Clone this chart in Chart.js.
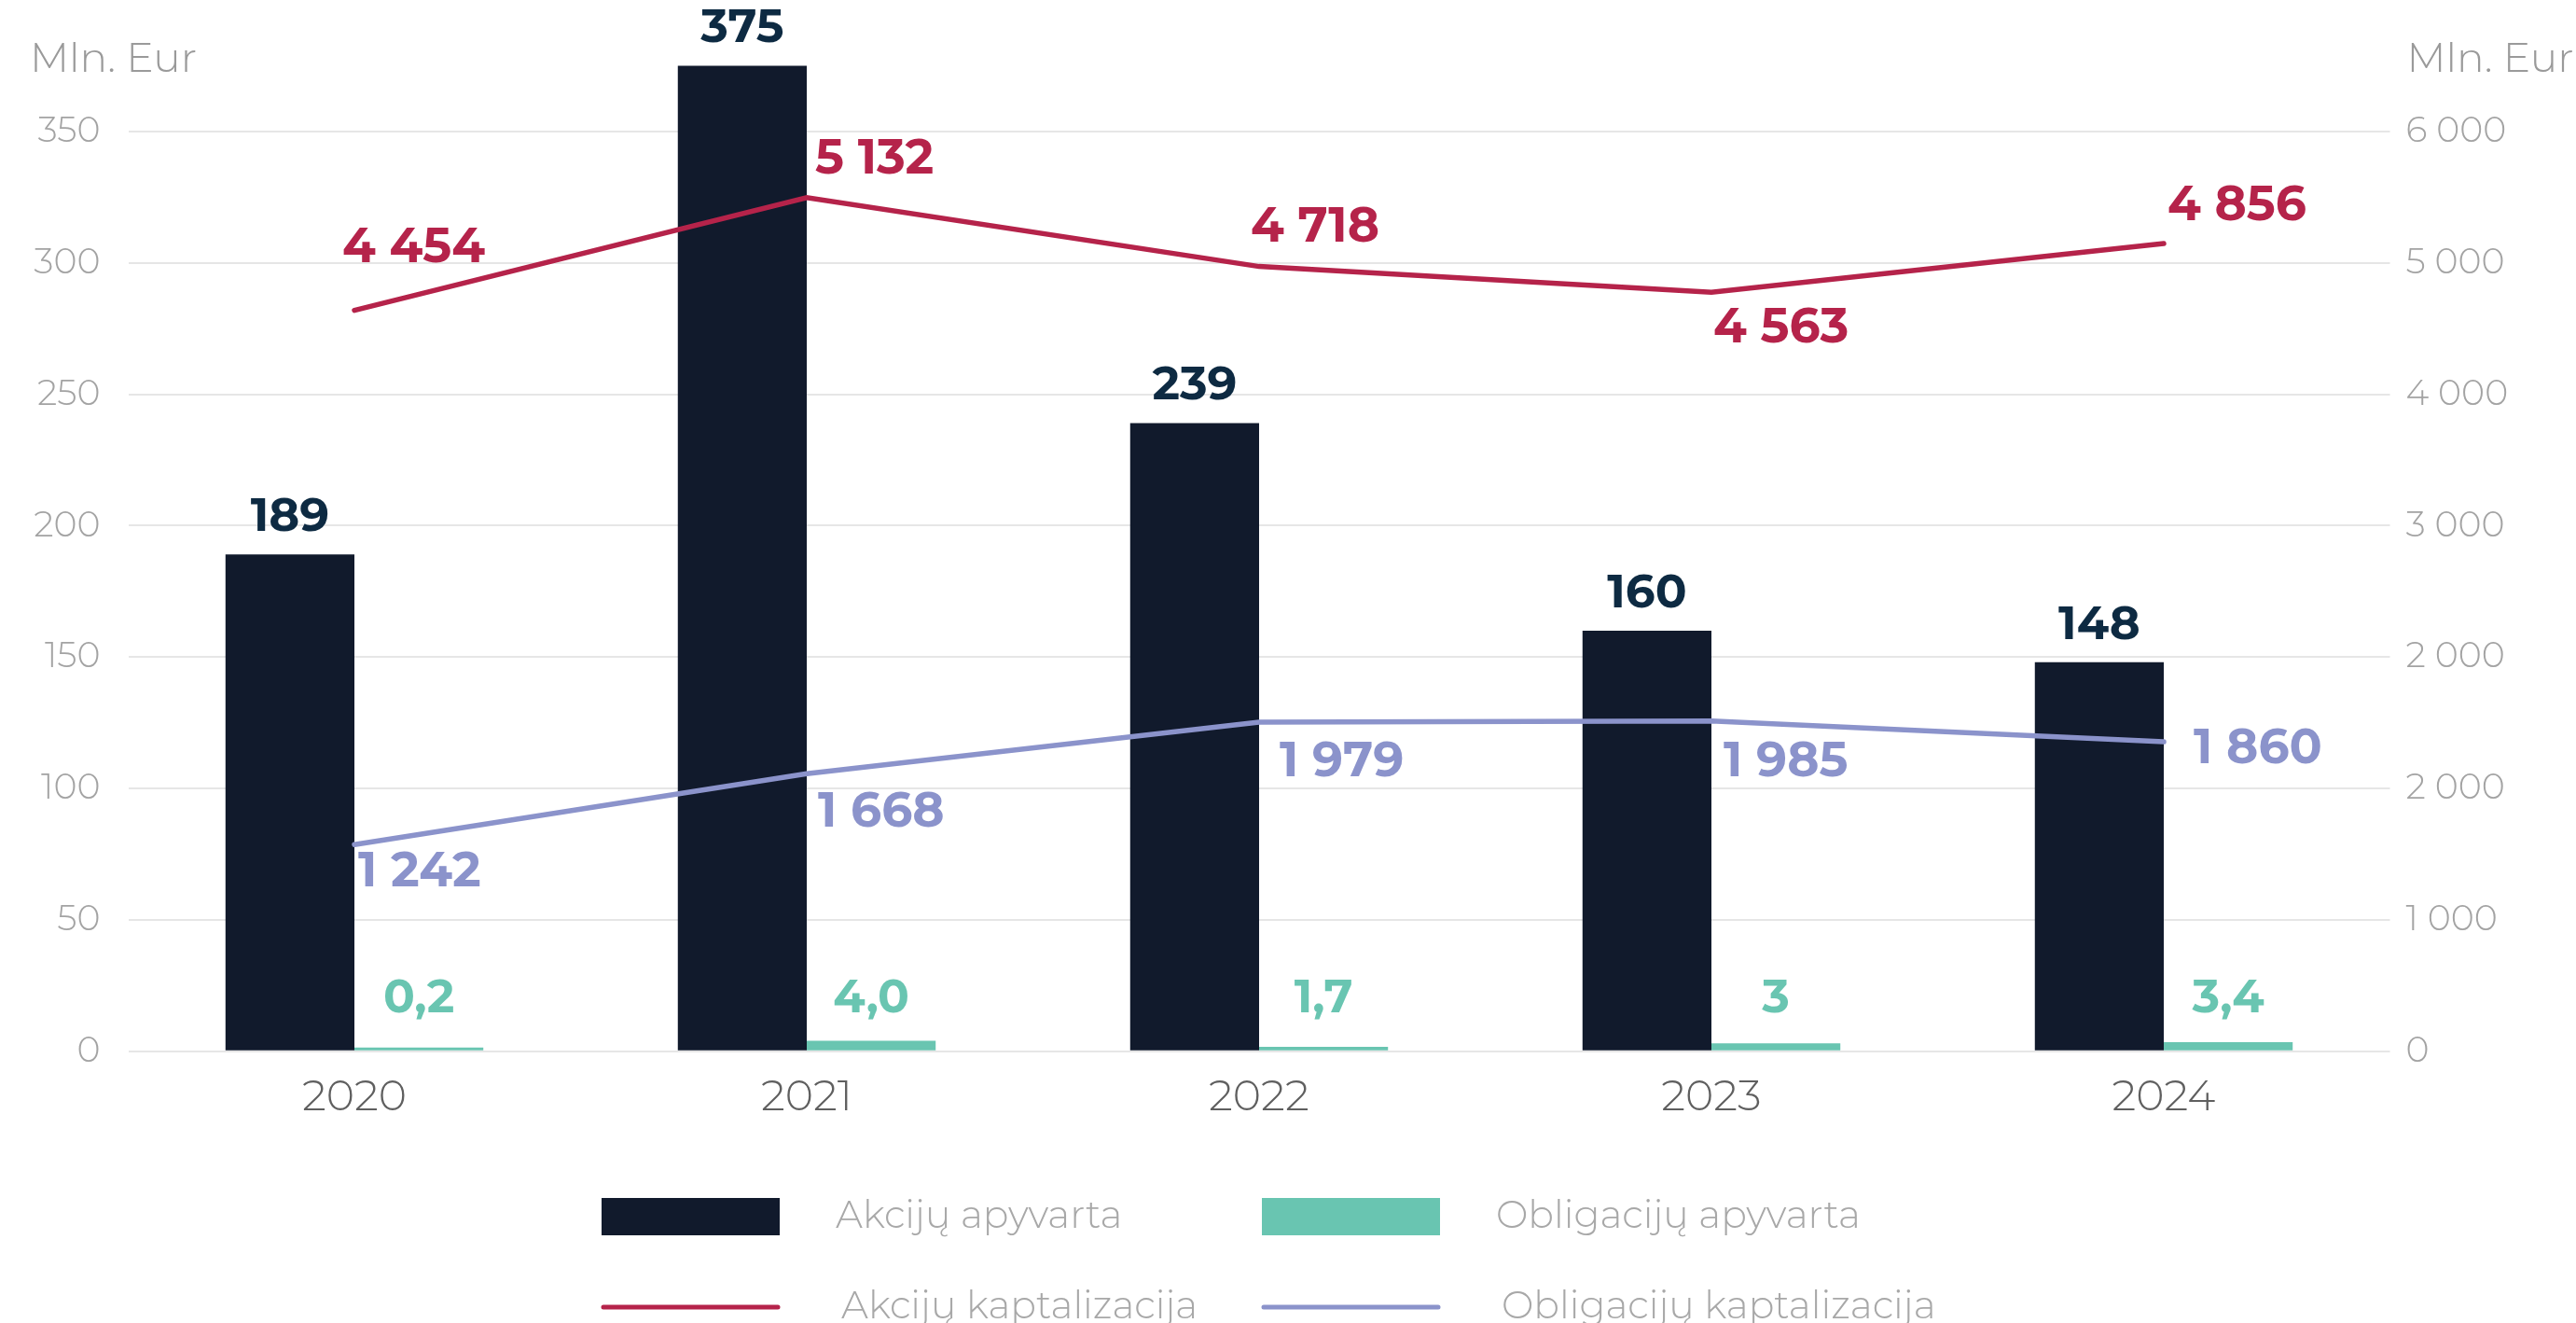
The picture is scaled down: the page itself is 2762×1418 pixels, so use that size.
<!DOCTYPE html>
<html>
<head>
<meta charset="utf-8">
<script src="https://cdn.jsdelivr.net/npm/chart.js@4.4.1/dist/chart.umd.min.js"></script>
<style>
  html, body { margin: 0; padding: 0; background: #fff; }
  #chart { display: block; }
</style>
</head>
<body>
<canvas id="chart" width="2762" height="1418"></canvas>
<script>
// data
const years = ['2020', '2021', '2022', '2023', '2024'];
const akcijuApyvarta = [189, 375, 239, 160, 148];
const obligacijuApyvarta = [0.2, 4.0, 1.7, 3, 3.4];
const obligacijuApyvartaText = ['0,2', '4,0', '1,7', '3', '3,4'];
const akcijuKapitalizacija = [4454, 5132, 4718, 4563, 4856];
const obligacijuKapitalizacija = [1242, 1668, 1979, 1985, 1860];
const leftTickMax = 350;
const rightTickLabels = ['0', '1 000', '2 000', '2 000', '3 000', '4 000', '5 000', '6 000'];
const axisTitle = 'Mln. Eur';

const FONT = "Montserrat, Inter, 'Noto Sans', sans-serif";
const NAVY = '#111a2c';
const TEAL = '#69c5b1';
const RED = '#b5234a';
const BLUE = '#8b93cb';

// left axis 0..400, right axis uses 15.8 units per left unit (grid step = 790)
const leftMax = 400;
const rightRatio = 15.8;

const fmt = v => String(v).replace(/\B(?=(\d{3})+(?!\d))/g, ' ');

// label offsets for the line points (left edge x, centre y relative to point)
const lineLabelOffsets = {
    2: [[-13, -67], [9, -41], [-9, -42], [2, 38], [4, -40]],
    3: [[4, 29], [12, 41], [22, 43], [13, 44], [32, 8]]
};

const noPad = s => {
    s.paddingTop = 0; s.paddingBottom = 0; s.paddingLeft = 0; s.paddingRight = 0;
};

const labelsPlugin = {
    id: 'valueLabels',
    afterDatasetsDraw(chart) {
        const ctx = chart.ctx;
        ctx.save();
        ctx.textBaseline = 'middle';
        ctx.font = `700 50px ${FONT}`;

        // akciju apyvarta bars
        chart.getDatasetMeta(0).data.forEach((el, i) => {
            ctx.fillStyle = '#0d2a42';
            ctx.textAlign = 'center';
            ctx.fillText(fmt(akcijuApyvarta[i]), el.x, el.y - 40);
        });
        // obligaciju apyvarta bars
        chart.getDatasetMeta(1).data.forEach((el, i) => {
            ctx.fillStyle = TEAL;
            ctx.textAlign = 'center';
            ctx.fillText(obligacijuApyvartaText[i], el.x, el.base - 55);
        });
        // lines
        ctx.font = `700 52px ${FONT}`;
        [2, 3].forEach(di => {
            const ds = chart.data.datasets[di];
            chart.getDatasetMeta(di).data.forEach((el, i) => {
                const off = lineLabelOffsets[di][i];
                ctx.fillStyle = ds.borderColor;
                ctx.textAlign = 'left';
                ctx.fillText(fmt(ds.data[i]), el.x + off[0], el.y + off[1]);
            });
        });
        ctx.restore();
    },
    afterDraw(chart) {
        const ctx = chart.ctx;
        ctx.save();
        // axis titles
        ctx.font = `300 44px ${FONT}`;
        ctx.fillStyle = '#9a9a9a';
        ctx.textBaseline = 'middle';
        ctx.textAlign = 'left';
        ctx.fillText(axisTitle, 32, 64);
        ctx.fillText(axisTitle, chart.scales.y2.left + 18, 64);

        // legend, 2 x 2
        const colX = [645, 1353];
        const rowY = [1304, 1401];
        ctx.font = `300 41px ${FONT}`;
        chart.data.datasets.forEach((ds, i) => {
            const x = colX[i % 2];
            const row = Math.floor(i / 2);
            const y = rowY[row];
            if (ds.type === 'line') {
                ctx.strokeStyle = ds.borderColor;
                ctx.lineWidth = 5;
                ctx.lineCap = 'round';
                ctx.beginPath();
                ctx.moveTo(x + 2, y);
                ctx.lineTo(x + 189, y);
                ctx.stroke();
            } else {
                ctx.fillStyle = ds.backgroundColor;
                ctx.fillRect(x, y - 20, 191, 40);
            }
            ctx.fillStyle = '#a8a8a8';
            ctx.fillText(ds.label, x + 251 + row * 6, y);
        });
        ctx.restore();
    }
};

const ctx = document.getElementById('chart').getContext('2d');
new Chart(ctx, {
    type: 'bar',
    data: {
        labels: years,
        datasets: [
            {
                label: 'Akcijų apyvarta',
                data: akcijuApyvarta,
                backgroundColor: NAVY,
                yAxisID: 'y',
                order: 2
            },
            {
                label: 'Obligacijų apyvarta',
                data: obligacijuApyvarta,
                backgroundColor: TEAL,
                yAxisID: 'y',
                minBarLength: 4,
                order: 2
            },
            {
                type: 'line',
                label: 'Akcijų kaptalizacija',
                data: akcijuKapitalizacija,
                borderColor: RED,
                borderWidth: 5.5,
                borderCapStyle: 'round',
                pointRadius: 0,
                tension: 0,
                yAxisID: 'y2',
                order: 1
            },
            {
                type: 'line',
                label: 'Obligacijų kaptalizacija',
                data: obligacijuKapitalizacija,
                borderColor: BLUE,
                borderWidth: 5.5,
                borderCapStyle: 'round',
                pointRadius: 0,
                tension: 0,
                yAxisID: 'y2',
                order: 1
            }
        ]
    },
    options: {
        responsive: false,
        animation: false,
        devicePixelRatio: 1,
        layout: { padding: 0, autoPadding: false },
        datasets: {
            bar: { categoryPercentage: 0.57, barPercentage: 1, borderWidth: 0 }
        },
        plugins: {
            legend: { display: false },
            tooltip: { enabled: false }
        },
        scales: {
            x: {
                grid: { display: false, drawTicks: false },
                border: { display: false },
                ticks: {
                    color: '#5f5f5f',
                    font: { family: FONT, size: 46, weight: 300 },
                    padding: 22
                },
                afterFit: s => { s.height = 291.3; noPad(s); }
            },
            y: {
                position: 'left',
                min: 0,
                max: leftMax,
                grid: { color: '#e6e6e6', lineWidth: 2, drawTicks: false },
                border: { display: false },
                ticks: {
                    stepSize: 50,
                    color: '#a3a3a3',
                    font: { family: FONT, size: 38, weight: 300 },
                    padding: 30
                },
                afterBuildTicks: s => { s.ticks = s.ticks.filter(t => t.value <= leftTickMax); },
                afterFit: s => { s.width = 137.5; noPad(s); }
            },
            y2: {
                position: 'right',
                min: 0,
                max: leftMax * rightRatio,
                grid: { display: false, drawTicks: false },
                border: { display: false },
                ticks: {
                    color: '#a3a3a3',
                    font: { family: FONT, size: 38, weight: 300 },
                    padding: 17,
                    callback: (v, i) => rightTickLabels[i]
                },
                afterBuildTicks: s => {
                    s.ticks = rightTickLabels.map((l, i) => ({ value: i * 50 * rightRatio }));
                },
                afterFit: s => { s.width = 199.5; noPad(s); }
            }
        }
    },
    plugins: [labelsPlugin]
});
</script>
</body>
</html>
